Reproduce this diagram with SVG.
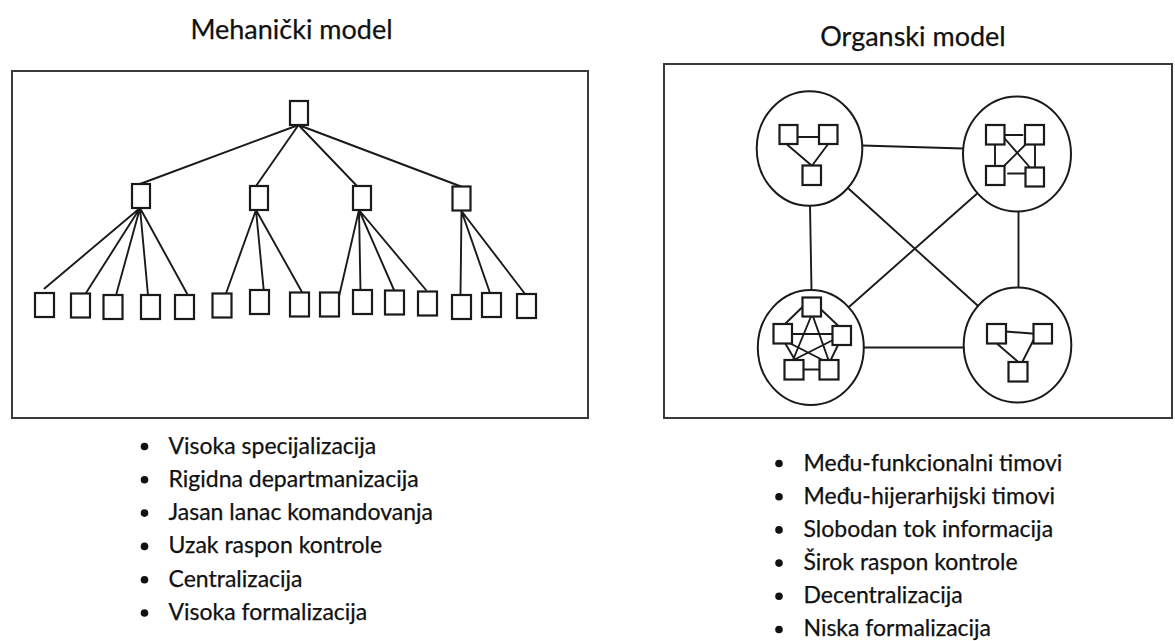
<svg xmlns="http://www.w3.org/2000/svg" width="1175" height="641" viewBox="0 0 1175 641">
  <style>
    .frame { fill: none; stroke: #3a3a3a; stroke-width: 2; }
    .box { fill: #ffffff; stroke: #1a1a1a; stroke-width: 2.2; }
    .edge { fill: none; stroke: #1a1a1a; stroke-width: 1.9; stroke-linecap: round; }
    .team { fill: #ffffff; stroke: #1a1a1a; stroke-width: 2; }
    .title { font-family: Lato, "Open Sans", sans-serif; font-size: 27px; fill: #111; stroke: #111; stroke-width: 0.25; text-anchor: middle; }
    .item { font-family: Lato, "Open Sans", sans-serif; font-size: 23px; fill: #111; stroke: #111; stroke-width: 0.25; }
    .bullet { fill: #111; }
  </style>

  <rect width="1175" height="641" fill="#ffffff"/>

  <!-- Titles -->
  <text class="title" x="291.5" y="39">Mehanički model</text>
  <text class="title" x="913" y="46">Organski model</text>

  <!-- Mechanistic model: hierarchy tree -->
  <rect class="frame" x="12" y="71" width="576" height="347"/>

  <g id="tree-connectors">
    <!-- top level to second level -->
    <path class="edge" d="M298.5 125 L140 184 M298.5 125 L256 186 M298.5 125 L357 186 M298.5 125 L461 186.5"/>
    <!-- group A -->
    <path class="edge" d="M140 208 L44.5 288.5 M140 208 L86 293 M140 208 L116.5 293.5 M140 208 L148 295 M140 208 L187 293.5"/>
    <!-- group B -->
    <path class="edge" d="M256 210 L226 293.5 M256 210 L264 293 M256 210 L304.5 296.5"/>
    <!-- group C -->
    <path class="edge" d="M359 210 L339 296.5 M359 210 L360.5 291.5 M359 210 L394 290 M359 210 L426 290"/>
    <!-- group D -->
    <path class="edge" d="M461.5 211 L460.5 295 M461.5 211 L490 293 M461.5 211 L527 296.5"/>
  </g>

  <g id="node-top"><rect class="box" x="290" y="101" width="18" height="24"/></g>
  <g id="node-a"><rect class="box" x="132" y="184" width="18" height="24"/></g>
  <g id="node-b"><rect class="box" x="250" y="186" width="18" height="24"/></g>
  <g id="node-c"><rect class="box" x="353" y="186" width="18" height="24"/></g>
  <g id="node-d"><rect class="box" x="452.5" y="186.5" width="18" height="24"/></g>

  <g id="node-a1"><rect class="box" x="35" y="293" width="19" height="24"/></g>
  <g id="node-a2"><rect class="box" x="71" y="293.5" width="19" height="24"/></g>
  <g id="node-a3"><rect class="box" x="103.5" y="295" width="19" height="24"/></g>
  <g id="node-a4"><rect class="box" x="141" y="295" width="19" height="24"/></g>
  <g id="node-a5"><rect class="box" x="175" y="295" width="19" height="24"/></g>
  <g id="node-b1"><rect class="box" x="212.5" y="293.5" width="19" height="24"/></g>
  <g id="node-b2"><rect class="box" x="250" y="290" width="19" height="24"/></g>
  <g id="node-b3"><rect class="box" x="290" y="292.5" width="19" height="24"/></g>
  <g id="node-c1"><rect class="box" x="320" y="292.5" width="19" height="24"/></g>
  <g id="node-c2"><rect class="box" x="353" y="290" width="19" height="24"/></g>
  <g id="node-c3"><rect class="box" x="385" y="290.5" width="19" height="24"/></g>
  <g id="node-c4"><rect class="box" x="418" y="291.5" width="19" height="24"/></g>
  <g id="node-d1"><rect class="box" x="452" y="295" width="19" height="24"/></g>
  <g id="node-d2"><rect class="box" x="482" y="293" width="19" height="24"/></g>
  <g id="node-d3"><rect class="box" x="517" y="294" width="19" height="24"/></g>

  <!-- Organic model: linked teams -->
  <rect class="frame" x="664" y="64" width="508" height="354"/>

  <g id="team-connectors">
    <path class="edge" d="M862 145.5 L963 148.5"/>
    <path class="edge" d="M810 205.5 L811.5 290"/>
    <path class="edge" d="M1018.5 211.5 L1018.5 287.5"/>
    <path class="edge" d="M864 347.5 L964 347.5"/>
    <path class="edge" d="M849 189 L982.5 310"/>
    <path class="edge" d="M980 191 L849.5 306.5"/>
  </g>

  <g id="team-top-left">
    <ellipse class="team" cx="809.5" cy="148.5" rx="52.8" ry="57.3"/>
    <path class="edge" d="M797.5 137 L819 137 M787 144.5 L811 165 M830 141.5 L812.5 165"/>
    <rect class="box" x="779.5" y="125" width="18" height="19"/>
    <rect class="box" x="819" y="125" width="18.5" height="19"/>
    <rect class="box" x="802.5" y="165.5" width="18.5" height="19.5"/>
  </g>

  <g id="team-top-right">
    <ellipse class="team" cx="1017" cy="154" rx="54" ry="57.5"/>
    <path class="edge" d="M1004 135 L1022.5 135 M1008 173.5 L1025.5 173.5 M995 144 L995 166 M1035 144 L1035 167.5 M1003 136.5 L1030 167.5 M1030 140 L1000 170"/>
    <rect class="box" x="986" y="125" width="18.5" height="19.5"/>
    <rect class="box" x="1025" y="125" width="19" height="19.5"/>
    <rect class="box" x="986" y="166" width="18.5" height="19"/>
    <rect class="box" x="1025.5" y="167.5" width="18.5" height="19"/>
  </g>

  <g id="team-bottom-left">
    <ellipse class="team" cx="810.8" cy="347.5" rx="53" ry="57.5"/>
    <path class="edge" d="M803.5 306 L785 324 M820.5 309 L838.5 326 M788 334 L840 334 M785 343 L795 360 M838 345 L830 361.5 M803.5 369.5 L821.5 369.5 M811 316.5 L793 360 M813 316.5 L828.5 360 M783.5 340 L828.5 363 M837 338 L793.5 360"/>
    <rect class="box" x="802.5" y="297.5" width="18.5" height="19"/>
    <rect class="box" x="773.5" y="324" width="18.5" height="19.5"/>
    <rect class="box" x="832.5" y="326" width="18.5" height="19"/>
    <rect class="box" x="784.5" y="360" width="19" height="19.5"/>
    <rect class="box" x="819.5" y="360" width="19" height="19.5"/>
  </g>

  <g id="team-bottom-right">
    <ellipse class="team" cx="1017.5" cy="345" rx="53.8" ry="57.5"/>
    <path class="edge" d="M1005.5 331.5 L1038 334 M994.5 341.5 L1020 363.5 M1033.5 340 L1021.5 363.5"/>
    <rect class="box" x="987" y="324" width="19" height="19.5"/>
    <rect class="box" x="1033.5" y="324" width="18.5" height="19.5"/>
    <rect class="box" x="1008.5" y="362" width="19" height="19.5"/>
  </g>

  <!-- Characteristics: mechanistic -->
  <g id="list-mechanistic">
    <circle class="bullet" cx="144.5" cy="446.5" r="3.8"/>
    <circle class="bullet" cx="144.5" cy="479.8" r="3.8"/>
    <circle class="bullet" cx="144.5" cy="513.1" r="3.8"/>
    <circle class="bullet" cx="144.5" cy="546.4" r="3.8"/>
    <circle class="bullet" cx="144.5" cy="579.7" r="3.8"/>
    <circle class="bullet" cx="144.5" cy="613" r="3.8"/>
    <text class="item" x="168.5" y="453.5">Visoka specijalizacija</text>
    <text class="item" x="168.5" y="486.8">Rigidna departmanizacija</text>
    <text class="item" x="168.5" y="520.1">Jasan lanac komandovanja</text>
    <text class="item" x="168.5" y="553.4">Uzak raspon kontrole</text>
    <text class="item" x="168.5" y="586.7">Centralizacija</text>
    <text class="item" x="168.5" y="620">Visoka formalizacija</text>
  </g>

  <!-- Characteristics: organic -->
  <g id="list-organic">
    <circle class="bullet" cx="779" cy="463.5" r="3.8"/>
    <circle class="bullet" cx="779" cy="496.7" r="3.8"/>
    <circle class="bullet" cx="779" cy="529.9" r="3.8"/>
    <circle class="bullet" cx="779" cy="563.1" r="3.8"/>
    <circle class="bullet" cx="779" cy="596.3" r="3.8"/>
    <circle class="bullet" cx="779" cy="629.5" r="3.8"/>
    <text class="item" x="803.5" y="470.5">Među-funkcionalni timovi</text>
    <text class="item" x="803.5" y="503.7">Među-hijerarhijski timovi</text>
    <text class="item" x="803.5" y="536.9">Slobodan tok informacija</text>
    <text class="item" x="803.5" y="570.1">Širok raspon kontrole</text>
    <text class="item" x="803.5" y="603.3">Decentralizacija</text>
    <text class="item" x="803.5" y="636.3">Niska formalizacija</text>
  </g>
</svg>
